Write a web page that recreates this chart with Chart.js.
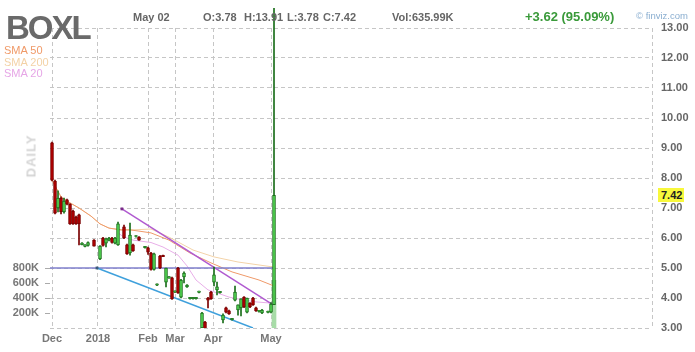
<!DOCTYPE html>
<html><head><meta charset="utf-8">
<script src="https://cdn.jsdelivr.net/npm/chart.js@4.4.0/dist/chart.umd.min.js"></script>
<style>
html,body{margin:0;padding:0;background:#fff;}
#wrap{position:relative;width:695px;height:352px;overflow:hidden;font-family:"Liberation Sans",Arial,sans-serif;}
canvas{position:absolute;left:0;top:0;}
.t{position:absolute;white-space:pre;line-height:1;}
.h{font-size:11px;font-weight:bold;color:#666;top:12.4px;}
</style></head><body>
<div id="wrap">
<canvas id="c" width="695" height="352"></canvas>
<div class="t" style="left:6px;top:11px;font-size:33px;font-weight:bold;color:#6a6a6a;letter-spacing:-2px;">BOXL</div>
<div class="t" style="left:4px;top:44.7px;font-size:11px;color:#f09a68;">SMA 50</div>
<div class="t" style="left:4px;top:56.5px;font-size:11px;color:#f3d2a6;">SMA 200</div>
<div class="t" style="left:4px;top:68px;font-size:11px;color:#e6a6e6;">SMA 20</div>
<div class="t h" style="left:133px;">May 02</div>
<div class="t h" style="left:203px;">O:3.78</div>
<div class="t h" style="left:244px;">H:13.91</div>
<div class="t h" style="left:287px;">L:3.78</div>
<div class="t h" style="left:323px;">C:7.42</div>
<div class="t h" style="left:392px;">Vol:635.99K</div>
<div class="t" style="left:525px;top:9.7px;font-size:13px;font-weight:bold;color:#3a9a3a;">+3.62 (95.09%)</div>
<div class="t" style="left:636px;top:11.3px;font-size:9.5px;color:#8aaed0;">© finviz.com</div>
<div class="t" style="left:31px;top:156px;font-size:13px;font-weight:bold;color:#d4d4d4;letter-spacing:1px;transform:translate(-50%,-50%) rotate(-90deg);">DAILY</div>
<div class="t" id="lastLbl" style="left:658px;width:26px;height:14px;background:#f8f83c;font-size:11px;font-weight:bold;color:#222;line-height:14px;text-indent:3px;">7.42</div>
</div>
<script>
const barIndex = [0,1,2,3,4,5,6,7,8,9,10,11,12,14,16,17,18,19,20,21,22,24,25,26,27,28,29,31,32,33,34,35,36,37,38,39,40,41,42,43,44,45,46,47,48,49,50,51,52,53,54,55,56,57,58,59,60,61,62,63,64,65,66,67,68,69,70,72,73,74];
const openP  = [9.17,7.90,7.00,7.33,6.87,7.27,7.13,6.90,6.70,6.77,5.78,5.72,5.75,5.93,5.30,6.00,5.83,5.93,6.00,5.83,5.77,6.37,5.77,5.50,5.77,6.05,6.03,5.68,5.67,5.50,4.95,4.43,5.40,5.42,4.53,4.67,4.67,4.20,5.00,4.03,4.70,4.37,3.98,3.98,3.98,4.19,3.00,3.20,4.00,4.20,4.53,4.27,4.18,3.27,3.67,3.57,3.28,3.93,3.60,3.67,4.03,3.53,3.83,4.00,3.67,3.55,3.50,3.52,3.53,3.78];
const highP  = [9.20,7.93,7.57,7.37,7.33,7.30,7.15,6.93,6.73,6.80,5.85,5.78,5.87,5.95,5.75,6.02,6.00,6.02,6.02,6.02,6.53,6.43,5.80,6.50,5.80,6.08,6.05,5.72,5.70,5.52,5.50,4.47,5.42,5.43,5.00,4.71,4.70,4.24,5.02,4.62,4.87,4.45,4.02,4.02,4.02,4.23,3.52,3.22,4.02,4.22,5.03,4.53,4.22,3.47,3.70,3.60,3.32,4.40,3.77,3.97,4.05,4.00,3.85,4.02,3.70,3.59,3.62,3.56,3.85,13.91];
const lowP   = [7.90,6.80,6.87,6.80,6.83,7.10,6.45,6.45,6.45,5.77,5.77,5.70,5.73,5.73,5.28,5.73,5.70,5.90,5.83,5.80,5.75,5.98,5.45,5.43,5.55,6.03,5.92,5.66,5.45,4.93,4.93,4.41,4.98,5.38,4.37,4.65,3.95,4.18,4.15,4.00,4.50,4.35,3.96,3.96,3.96,4.17,2.98,2.90,3.67,3.95,4.40,4.10,4.16,3.17,3.50,3.45,3.26,3.90,3.43,3.40,3.68,3.50,3.68,3.75,3.55,3.53,3.48,3.50,3.50,3.78];
const closeP = [7.93,6.83,7.33,6.87,7.23,7.13,6.47,6.47,6.47,6.47,5.83,5.77,5.85,5.73,5.73,5.75,5.97,6.00,5.85,6.00,6.47,6.00,5.47,6.10,5.57,6.08,5.93,5.72,5.53,4.95,5.47,4.47,5.00,5.38,5.00,4.71,3.97,4.24,4.17,4.60,4.83,4.43,4.02,4.02,4.02,4.23,3.50,2.95,3.93,3.97,4.77,4.37,4.22,3.43,3.53,3.47,3.32,4.20,3.77,3.97,3.70,4.00,3.70,3.77,3.57,3.59,3.60,3.56,3.80,7.42];

const volumeIndex = [74];
const volume = [635990];

const monthTickIndex = [0, 15.33, 32, 41, 53.67, 73, 200];
const monthLabels = ['Dec','2018','Feb','Mar','Apr','May',''];
const priceTicks = [3,4,5,6,7,8,9,10,11,12,13];
const volumeTicks = [200000,400000,600000,800000];

const sma50Index = [0,3,6,9,13,16,19,23,26,29,33,39,46,53,60,69,74];
const sma50      = [7.93,7.37,7.17,7.00,6.73,6.47,6.33,6.27,6.27,6.23,6.17,5.93,5.50,5.17,4.87,4.60,4.40];
const sma200Index = [0,3,6,9,13,16,19,23,26,29,33,39,47,54,62,74];
const sma200      = [7.93,7.37,7.17,7.00,6.73,6.47,6.33,6.27,6.27,6.28,6.30,6.03,5.60,5.37,5.20,5.03];
const sma20Index = [22,24,27,33,37,42,45,48,52,55,59,64,68,73,74];
const sma20      = [6.17,6.03,5.93,5.85,5.70,5.43,5.07,4.60,4.27,4.17,4.03,3.93,3.87,3.83,3.85];

const trendPurpleIndex = [23.3, 73.7];
const trendPurple = [6.97, 3.77];
const trendBlueIndex = [15, 67];
const trendBlue = [5.0, 3.0];
const levelIndex = [-0.67, 74.3];
const level = [5.0, 5.0];

const lastClose = closeP[closeP.length-1];

const up = closeP.map((c,i)=> c >= openP[i]);
const pts = (xs, ys) => xs.map((x,i)=>({x, y: ys[i]}));
const lineDs = (xs, ys, color, w, order, extra) => Object.assign({
  type:'line', data: pts(xs, ys), borderColor: color, borderWidth: w,
  pointRadius: 0, tension: 0, yAxisID:'y', order, fill:false
}, extra || {});

const datasets = [
  { type:'bar', data: barIndex.map((x,i)=>({x, y:[openP[i], closeP[i]]})),
    backgroundColor: up.map(u=> u ? '#52d452' : '#b10000'),
    borderColor: up.map(u=> u ? '#1a6e1a' : '#7a0000'),
    borderWidth: 1, borderSkipped: false, barThickness: 3, grouped: false, yAxisID:'y', order: 1 },
  { type:'bar', data: barIndex.map((x,i)=>({x, y:[lowP[i], highP[i]]})),
    backgroundColor: up.map(u=> u ? '#1a6e1a' : '#7a0000'),
    borderWidth: 0, barThickness: 1, grouped: false, yAxisID:'y', order: 2,
    clip: {left: 0, top: 20, right: 0, bottom: 0} },
  lineDs(trendPurpleIndex, trendPurple, '#b05ad0', 1.5, 3, {pointRadius:[2,0], pointStyle:'rect', pointBackgroundColor:'#7a2a8a', pointBorderWidth:0}),
  lineDs(trendBlueIndex, trendBlue, '#3fa0dc', 1.5, 3, {pointRadius:[2,0], pointStyle:'rect', pointBackgroundColor:'#3a5a7a', pointBorderWidth:0}),
  lineDs(levelIndex, level, '#7f7fcc', 1.5, 3),
  lineDs(sma20Index, sma20, '#e8aee8', 1, 4),
  lineDs(sma50Index, sma50, '#ef9a6a', 1, 5),
  lineDs(sma200Index, sma200, '#f3d3a8', 1, 6),
  { type:'bar', data: pts(volumeIndex, volume), backgroundColor:'#a8dca8', borderWidth:0,
    barThickness: 4, grouped:false, yAxisID:'yv', order: 7 }
];

const gridCol = '#c6c6c6';
const lblPlugin = {
  id:'lbl',
  afterDraw(chart){
    const y = chart.scales.y.getPixelForValue(lastClose);
    document.getElementById('lastLbl').style.top = (y - 7) + 'px';
  }
};

new Chart(document.getElementById('c'), {
  type:'bar',
  data:{ datasets },
  options:{
    responsive:false, animation:false, devicePixelRatio:1,
    layout:{ padding:{ top:28, left:0, right:0, bottom:0 } },
    plugins:{ legend:{display:false}, tooltip:{enabled:false} },
    scales:{
      x:{ type:'linear', min:-0.67, max:200, offset:false,
        grid:{ offset:false, color:gridCol, drawTicks:false },
        border:{ display:false, dash:[4,3] },
        afterBuildTicks: s => { s.ticks = monthTickIndex.map(v=>({value:v})); },
        afterFit: s => { s.height = 24; s.paddingLeft = 0; s.paddingRight = 0; },
        ticks:{ autoSkip:false, maxRotation:0, padding:4, color:'#777',
          font:{ family:'"Liberation Sans", Arial, sans-serif', size:11, weight:'bold' },
          callback:(v,i)=> monthLabels[i] } },
      y:{ type:'linear', position:'right', min:3, max:13,
        grid:{ color:gridCol, drawTicks:true, tickLength:9, tickColor:'rgba(0,0,0,0)' },
        border:{ display:false, dash:[4,3] },
        afterBuildTicks: s => { s.ticks = priceTicks.map(v=>({value:v})); },
        afterFit: s => { s.width = 43; s.paddingTop = 0; s.paddingBottom = 0; },
        ticks:{ padding:0, color:'#666',
          font:{ family:'"Liberation Sans", Arial, sans-serif', size:11, weight:'bold' },
          callback: v => Number(v).toFixed(2) } },
      yv:{ type:'linear', position:'left', min:0, max:4000000,
        grid:{ drawOnChartArea:false, drawTicks:true, tickLength:5, color:'#aaa', tickColor:'#aaa' },
        border:{ display:false },
        afterBuildTicks: s => { s.ticks = volumeTicks.map(v=>({value:v})); },
        afterFit: s => { s.width = 50; s.paddingTop = 0; s.paddingBottom = 0; },
        ticks:{ padding:6, color:'#777',
          font:{ family:'"Liberation Sans", Arial, sans-serif', size:11, weight:'bold' },
          callback: v => (v/1000) + 'K' } }
    }
  },
  plugins:[lblPlugin]
});
</script>
</body></html>
